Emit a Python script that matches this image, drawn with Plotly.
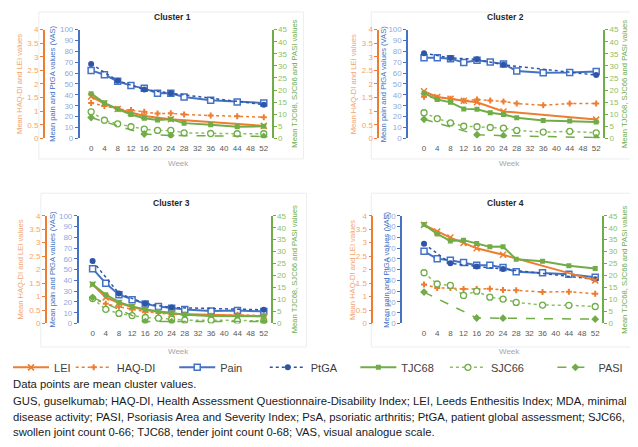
import plotly.graph_objects as go

# ---------------- data ----------------
weeks_all = [0, 4, 8, 12, 16, 20, 24, 28, 36, 44, 52]
weeks_lei = [0, 4, 8, 12, 16, 24, 52]
weeks_ptga = [0, 8, 16, 24, 52]
weeks_pasi = [0, 16, 24, 52]
week_ticks = [0, 4, 8, 12, 16, 20, 24, 28, 32, 36, 40, 44, 48, 52]

cluster_names = ["Cluster 1", "Cluster 2", "Cluster 3", "Cluster 4"]

lei_c1 = [1.54, 1.28, 1.08, 0.94, 0.82, 0.70, 0.46]
haq_c1 = [1.30, 1.19, 1.08, 1.04, 0.98, 0.91, 0.92, 0.88, 0.84, 0.81, 0.78]
pain_c1 = [62.5, 58.5, 52.5, 48.5, 46, 41.5, 41.5, 38, 35, 33.5, 32.5]
ptga_c1 = [68.5, 53, 45, 41.5, 31]
tjc_c1 = [18.5, 14.7, 12.1, 9.9, 8.3, 7.6, 7.9, 6.3, 5.6, 4.8, 5.0]
sjc_c1 = [11.0, 7.5, 6.0, 4.8, 3.8, 3.3, 3.3, 2.3, 2.0, 1.9, 1.9]
pasi_c1 = [8.6, 1.8, 1.2, 0.8]

lei_c2 = [1.73, 1.52, 1.46, 1.38, 1.33, 0.99, 0.69]
haq_c2 = [1.53, 1.49, 1.46, 1.38, 1.43, 1.39, 1.36, 1.28, 1.22, 1.28, 1.28]
pain_c2 = [74.2, 74.2, 73.3, 69.7, 71.8, 70.3, 68.5, 62, 60.3, 60.6, 61.5]
ptga_c2 = [78.2, 74, 72.7, 67.6, 58.2]
tjc_c2 = [18.7, 16.1, 14.9, 12.2, 12.0, 10.6, 9.9, 8.5, 7.4, 7.2, 6.8]
sjc_c2 = [10.6, 8.2, 6.4, 5.0, 4.8, 4.5, 4.2, 3.3, 2.6, 2.9, 2.3]
pasi_c2 = [7.9, 1.5, 1.1, 0.3]

lei_c3 = [1.45, 0.97, 0.76, 0.61, 0.50, 0.36, 0.27]
haq_c3 = [0.94, 0.73, 0.62, 0.52, 0.44, 0.39, 0.34, 0.32, 0.29, 0.32, 0.29]
pain_c3 = [50.9, 37.3, 26.7, 22.1, 18.2, 15.8, 14.2, 13, 11.5, 12.1, 11.2]
ptga_c3 = [57.9, 27.9, 18.5, 14.8, 12.7]
tjc_c3 = [16.4, 12.0, 8.9, 7.1, 5.9, 5.0, 4.5, 3.6, 3.1, 3.0, 3.0]
sjc_c3 = [10.4, 5.9, 4.2, 3.3, 2.5, 2.2, 1.8, 1.4, 1.4, 1.1, 1.1]
pasi_c3 = [10.9, 0.8, 0.8, 0.8]

lei_c4 = [3.66, 3.41, 3.19, 2.99, 2.79, 2.55, 1.60]
haq_c4 = [1.45, 1.32, 1.32, 1.28, 1.28, 1.29, 1.24, 1.23, 1.17, 1.18, 1.10]
pain_c4 = [67, 60, 58.6, 56.5, 54, 54, 52, 48, 47.1, 45.6, 42.9]
ptga_c4 = [74, 55.9, 52.9, 50.5, 41]
tjc_c4 = [41.3, 37.4, 34.5, 34.8, 33.4, 32.0, 32.1, 26.8, 26.0, 24.1, 23.0]
sjc_c4 = [21.2, 16.5, 15.9, 11.7, 13.5, 11.0, 10.2, 8.8, 7.7, 7.6, 7.1]
pasi_c4 = [13.1, 2.3, 2.2, 1.8]

lei = [lei_c1, lei_c2, lei_c3, lei_c4]
haq = [haq_c1, haq_c2, haq_c3, haq_c4]
pain = [pain_c1, pain_c2, pain_c3, pain_c4]
ptga = [ptga_c1, ptga_c2, ptga_c3, ptga_c4]
tjc = [tjc_c1, tjc_c2, tjc_c3, tjc_c4]
sjc = [sjc_c1, sjc_c2, sjc_c3, sjc_c4]
pasi = [pasi_c1, pasi_c2, pasi_c3, pasi_c4]

orange_title = "Mean HAQ-DI and LEI values"
blue_title = "Mean pain and PtGA values (VAS)"
green_title = "Mean TJC68, SJC66 and PASI values"
x_title = "Week"

footnote_lines = [
    "Data points are mean cluster values.",
    "GUS, guselkumab; HAQ-DI, Health Assessment Questionnaire-Disability Index; LEI, Leeds Enthesitis Index; MDA, minimal",
    "disease activity; PASI, Psoriasis Area and Severity Index; PsA, psoriatic arthritis; PtGA, patient global assessment; SJC66,",
    "swollen joint count 0-66; TJC68, tender joint count 0-68; VAS, visual analogue scale.",
]

# ---------------- styling / layout ----------------
OFF = 8                 # page body margin of the browser
W, H = 630, 439         # figure size so that it fills the 638x447 window
ORANGE = "#ED7D31"
ORANGE_L = "#F4A46E"
BLUE = "#4472C4"
BLUE_D = "#2F55A8"
BLUE_L = "#8FAADC"
GREEN = "#70AD47"
GREEN_L = "#8CC063"
FONT = "Liberation Sans"


def fx(x):
    return (x - OFF) / W


def fy(y):
    return 1 - (y - OFF) / H


# panel geometry in window pixels
panels = [
    dict(left=77, right=270, top=26, bottom=137, x0=88.5, x52=262, orange=41,
         t_or=17, t_bl=50, t_gr=293, title=(170, 13), week=(176, 163), frame=(36, 2, 302, 158)),
    dict(left=407, right=603, top=26, bottom=137, x0=423, x52=596, orange=377,
         t_or=353, t_bl=383, t_gr=625, title=(505, 13), week=(509, 163), frame=(370, 2, 636, 158)),
    dict(left=76, right=269, top=216, bottom=326, x0=90, x52=262, orange=43,
         t_or=18, t_bl=50, t_gr=293, title=(169, 203), week=(176, 355), frame=(38, 193, 305, 350)),
    dict(left=401, right=602, top=216, bottom=326, x0=423, x52=595, orange=371,
         t_or=351, t_bl=385, t_gr=625, title=(505, 203), week=(509, 355), frame=(370, 193, 636, 350)),
]

series = [
    ("LEI", lei, weeks_lei, "o", ORANGE, "solid", 2,
     dict(symbol="x-thin", size=6, color=ORANGE, line=dict(color=ORANGE, width=1.5))),
    ("HAQ-DI", haq, weeks_all, "o", ORANGE, "dot", 1.5,
     dict(symbol="cross", size=5, color=ORANGE, line=dict(width=0))),
    ("Pain", pain, weeks_all, "b", BLUE, "solid", 2,
     dict(symbol="square", size=6, color="white", line=dict(color=BLUE, width=1.5))),
    ("PtGA", ptga, weeks_ptga, "b", BLUE_D, "dot", 1.5,
     dict(symbol="circle", size=6, color=BLUE_D, line=dict(width=0))),
    ("TJC68", tjc, weeks_all, "g", GREEN, "solid", 2,
     dict(symbol="square", size=5, color=GREEN, line=dict(width=0))),
    ("SJC66", sjc, weeks_all, "g", GREEN_L, "dot", 1.5,
     dict(symbol="circle", size=6, color="white", line=dict(color=GREEN, width=1.3))),
    ("PASI", pasi, weeks_pasi, "g", GREEN, "dash", 1.5,
     dict(symbol="diamond", size=6, color=GREEN, line=dict(width=0))),
]

legend_text_x = [53, 116, 220, 311, 402, 492, 600]

fig = go.Figure()
layout = dict(width=W, height=H, margin=dict(l=0, r=0, t=0, b=0), autosize=False,
              paper_bgcolor="white", plot_bgcolor="white",
              font=dict(family=FONT, size=8, color="#404040"), showlegend=True)
annotations = []
shapes = []

for i, p in enumerate(panels):
    n = i + 1
    xa = f"x{n}"
    yb, yo, yg = 3 * i + 1, 3 * i + 2, 3 * i + 3
    s = (p["x52"] - p["x0"]) / 52.0
    xr = [-(p["x0"] - p["left"]) / s, 52 + (p["right"] - p["x52"]) / s]
    ydom = [fy(p["bottom"]), fy(p["top"])]
    layout[f"xaxis{n}"] = dict(domain=[fx(p["left"]), fx(p["right"])], range=xr,
                               anchor=f"y{yb}", tickvals=week_ticks, showgrid=False,
                               zeroline=False, showline=False, ticks="outside", ticklen=2,
                               tickcolor="rgba(0,0,0,0)",
                               tickfont=dict(size=8, color="#595959", family=FONT))
    common = dict(showgrid=False, zeroline=False, showline=True, linewidth=1.5,
                  ticks="outside", ticklen=3, tickwidth=1)
    layout[f"yaxis{yb}"] = dict(domain=ydom, range=[0, 100], dtick=10, anchor=xa, side="left",
                                linecolor=BLUE, tickcolor=BLUE,
                                tickfont=dict(size=8, color=BLUE_L, family=FONT), **common)
    layout[f"yaxis{yo}"] = dict(range=[0, 4], dtick=0.5, overlaying=f"y{yb}", anchor="free",
                                position=fx(p["orange"]), side="left",
                                linecolor=ORANGE, tickcolor=ORANGE,
                                tickfont=dict(size=8, color=ORANGE_L, family=FONT), **common)
    layout[f"yaxis{yg}"] = dict(range=[0, 45], dtick=5, overlaying=f"y{yb}", anchor=xa,
                                side="right", linecolor=GREEN, tickcolor=GREEN,
                                tickfont=dict(size=8, color=GREEN_L, family=FONT), **common)

    axis_map = {"o": f"y{yo}", "b": f"y{yb}", "g": f"y{yg}"}
    for k, (name, data, wk, kind, color, dash, width, marker) in enumerate(series):
        fig.add_trace(go.Scatter(
            x=wk, y=data[i], mode="lines+markers", name=name,
            line=dict(color=color, dash=dash, width=width), marker=marker,
            xaxis=xa, yaxis=axis_map[kind], showlegend=(i == 0),
            legend=("legend" if k == 0 else f"legend{k + 1}"),
        ))

    ymid = (p["top"] + p["bottom"]) / 2
    annotations += [
        dict(text="<b>" + cluster_names[i] + "</b>", x=fx(p["title"][0]), y=fy(p["title"][1]),
             xref="paper", yref="paper", showarrow=False,
             font=dict(size=8.5, color="#262626", family=FONT),
             xanchor="center", yanchor="middle"),
        dict(text=x_title, x=fx(p["week"][0]), y=fy(p["week"][1]), xref="paper", yref="paper",
             showarrow=False, font=dict(size=8, color="#A6A6A6", family=FONT),
             xanchor="center", yanchor="middle"),
        dict(text=orange_title, x=fx(p["t_or"]), y=fy(ymid), xref="paper", yref="paper",
             showarrow=False, textangle=-90, font=dict(size=7.6, color=ORANGE_L, family=FONT),
             xanchor="center", yanchor="middle"),
        dict(text=blue_title, x=fx(p["t_bl"]), y=fy(ymid), xref="paper", yref="paper",
             showarrow=False, textangle=-90, font=dict(size=7.6, color=BLUE, family=FONT),
             xanchor="center", yanchor="middle"),
        dict(text=green_title, x=fx(p["t_gr"]), y=fy(ymid), xref="paper", yref="paper",
             showarrow=False, textangle=-90, font=dict(size=7.6, color=GREEN, family=FONT),
             xanchor="center", yanchor="middle"),
    ]
    fr = p["frame"]
    shapes.append(dict(type="rect", xref="paper", yref="paper", x0=fx(max(fr[0], OFF)),
                       x1=fx(min(fr[2], OFF + W - 1)), y0=fy(fr[3]), y1=fy(max(fr[1], OFF)),
                       line=dict(color="#EDEDED", width=1),
                       fillcolor="rgba(0,0,0,0)", layer="below"))

for k in range(len(series)):
    key = "legend" if k == 0 else f"legend{k + 1}"
    layout[key] = dict(x=fx(legend_text_x[k] - 48), y=fy(356), xanchor="left", yanchor="top",
                       orientation="h", bgcolor="rgba(0,0,0,0)", itemwidth=36,
                       font=dict(size=11, color="#404040", family=FONT))

foot_y = [388, 405, 421, 437]
for line, yy in zip(footnote_lines, foot_y):
    annotations.append(dict(text=line, x=fx(8), y=fy(yy), xref="paper", yref="paper",
                            showarrow=False, align="left", xanchor="left", yanchor="middle",
                            font=dict(size=11.3, color="#1A1A1A", family=FONT)))

layout["annotations"] = annotations
layout["shapes"] = shapes
fig.update_layout(**layout)
fig.write_html("out.html")
